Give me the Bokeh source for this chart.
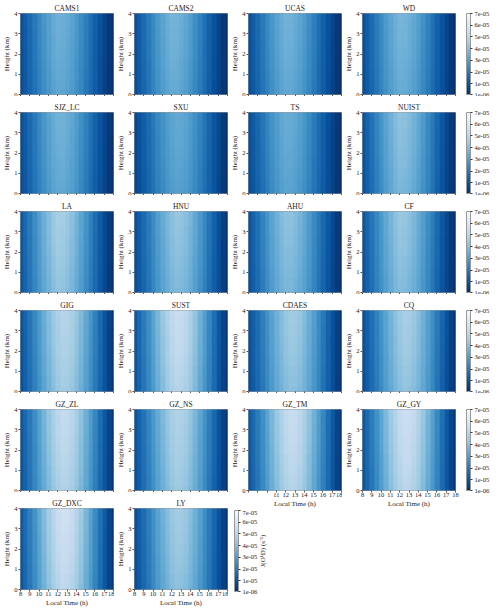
import numpy as np
from bokeh.plotting import figure
from bokeh.layouts import column, row
from bokeh.models import (LinearColorMapper, ColorBar, FixedTicker, CustomJSTickFormatter,
                          Label, Range1d)
from bokeh.palettes import Blues256
from bokeh.embed import file_html
from bokeh.resources import INLINE

# ---------------- data (J(O1D), units of 1e-5 s^-1) ----------------
hours = [8.0, 8.5, 9.0, 9.5, 10.0, 10.5, 11.0, 11.5, 12.0, 12.5, 13.0,
         13.5, 14.0, 14.5, 15.0, 15.5, 16.0, 16.5, 17.0, 17.5, 18.0]
heights_km = [0.0, 0.5, 1.0, 1.5, 2.0, 2.5, 3.0, 3.5, 4.0]
# relative enhancement of J(O1D) with height (surface = 1)
height_factor = [1.00, 1.015, 1.03, 1.045, 1.06, 1.07, 1.08, 1.09, 1.10]

j_CAMS1 = [0.86, 1.16, 1.49, 1.85, 2.21, 2.57, 2.87, 3.14, 3.30, 3.27, 3.14, 2.94, 2.67, 2.34, 1.98, 1.62, 1.25, 0.89, 0.56, 0.30, 0.10]
j_CAMS2 = [0.88, 1.19, 1.53, 1.90, 2.28, 2.65, 2.96, 3.23, 3.40, 3.37, 3.23, 3.03, 2.75, 2.41, 2.04, 1.67, 1.29, 0.92, 0.58, 0.31, 0.10]
j_UCAS = [0.87, 1.17, 1.51, 1.88, 2.24, 2.61, 2.91, 3.18, 3.35, 3.32, 3.18, 2.98, 2.71, 2.38, 2.01, 1.64, 1.27, 0.90, 0.57, 0.30, 0.10]
j_WD = [0.90, 1.21, 1.55, 1.93, 2.31, 2.69, 3.00, 3.28, 3.45, 3.42, 3.28, 3.07, 2.79, 2.45, 2.07, 1.69, 1.31, 0.93, 0.59, 0.31, 0.10]
j_SJZ_LC = [0.85, 1.15, 1.49, 1.86, 2.23, 2.60, 2.91, 3.18, 3.34, 3.35, 3.22, 3.02, 2.76, 2.43, 2.06, 1.69, 1.31, 0.94, 0.60, 0.32, 0.11]
j_SXU = [0.68, 0.93, 1.21, 1.52, 1.86, 2.20, 2.51, 2.76, 2.98, 3.10, 3.07, 2.95, 2.73, 2.45, 2.11, 1.77, 1.40, 1.02, 0.68, 0.37, 0.16]
j_TS = [0.83, 1.12, 1.44, 1.79, 2.14, 2.50, 2.78, 3.04, 3.20, 3.17, 3.04, 2.85, 2.59, 2.27, 1.92, 1.57, 1.22, 0.86, 0.54, 0.29, 0.10]
j_NUIST = [0.99, 1.33, 1.71, 2.13, 2.55, 2.96, 3.31, 3.61, 3.80, 3.76, 3.61, 3.38, 3.08, 2.70, 2.28, 1.86, 1.44, 1.03, 0.65, 0.34, 0.11]
j_LA = [1.09, 1.47, 1.89, 2.35, 2.81, 3.28, 3.65, 3.99, 4.20, 4.16, 3.99, 3.74, 3.40, 2.98, 2.52, 2.06, 1.60, 1.13, 0.71, 0.38, 0.13]
j_HNU = [0.86, 1.17, 1.52, 1.91, 2.34, 2.77, 3.16, 3.47, 3.74, 3.90, 3.86, 3.71, 3.43, 3.08, 2.65, 2.22, 1.76, 1.29, 0.86, 0.47, 0.20]
j_AHU = [0.97, 1.31, 1.69, 2.11, 2.53, 2.94, 3.29, 3.59, 3.78, 3.78, 3.63, 3.40, 3.10, 2.73, 2.31, 1.89, 1.47, 1.06, 0.67, 0.36, 0.12]
j_CF = [1.03, 1.38, 1.78, 2.21, 2.65, 3.08, 3.44, 3.75, 3.95, 3.91, 3.75, 3.52, 3.20, 2.80, 2.37, 1.94, 1.50, 1.07, 0.67, 0.36, 0.12]
j_GIG = [0.99, 1.35, 1.76, 2.21, 2.70, 3.20, 3.65, 4.01, 4.32, 4.50, 4.46, 4.28, 3.96, 3.56, 3.06, 2.57, 2.03, 1.49, 0.99, 0.54, 0.23]
j_SUST = [1.08, 1.47, 1.91, 2.40, 2.94, 3.48, 3.97, 4.36, 4.70, 4.90, 4.85, 4.66, 4.31, 3.87, 3.33, 2.79, 2.21, 1.62, 1.08, 0.59, 0.25]
j_CDAES = [0.90, 1.23, 1.60, 2.01, 2.46, 2.91, 3.32, 3.65, 3.94, 4.10, 4.06, 3.90, 3.61, 3.24, 2.79, 2.34, 1.85, 1.35, 0.90, 0.49, 0.21]
j_CQ = [0.92, 1.26, 1.64, 2.06, 2.52, 2.98, 3.40, 3.74, 4.03, 4.20, 4.16, 3.99, 3.70, 3.32, 2.86, 2.39, 1.89, 1.39, 0.92, 0.50, 0.21]
j_GZ_ZL = [1.06, 1.44, 1.87, 2.35, 2.88, 3.41, 3.89, 4.27, 4.61, 4.80, 4.75, 4.56, 4.22, 3.79, 3.26, 2.74, 2.16, 1.58, 1.06, 0.58, 0.24]
j_GZ_NS = [0.97, 1.32, 1.72, 2.16, 2.64, 3.12, 3.56, 3.92, 4.22, 4.40, 4.36, 4.18, 3.87, 3.48, 2.99, 2.51, 1.98, 1.45, 0.97, 0.53, 0.22]
j_GZ_TM = [1.10, 1.49, 1.93, 2.42, 2.96, 3.50, 3.98, 4.37, 4.71, 4.90, 4.84, 4.64, 4.29, 3.85, 3.31, 2.77, 2.19, 1.61, 1.07, 0.58, 0.24]
j_GZ_GY = [1.10, 1.50, 1.95, 2.45, 3.00, 3.55, 4.05, 4.45, 4.80, 5.00, 4.95, 4.75, 4.40, 3.95, 3.40, 2.85, 2.25, 1.65, 1.10, 0.60, 0.25]
j_GZ_DXC = [1.12, 1.53, 1.99, 2.50, 3.06, 3.62, 4.13, 4.54, 4.90, 5.10, 5.05, 4.85, 4.49, 4.03, 3.47, 2.91, 2.30, 1.68, 1.12, 0.61, 0.26]
j_LY = [0.88, 1.21, 1.58, 1.99, 2.44, 2.90, 3.31, 3.65, 3.95, 4.12, 4.10, 3.95, 3.67, 3.31, 2.86, 2.40, 1.91, 1.41, 0.94, 0.52, 0.22]

x_ticks = [8, 9, 10, 11, 12, 13, 14, 15, 16, 17, 18]
y_ticks = [0, 1, 2, 3, 4]
cbar_ticks = [1e-6, 1e-5, 2e-5, 3e-5, 4e-5, 5e-5, 6e-5, 7e-5]
cbar_low, cbar_high = 1e-6, 7e-5
cbar_title = "J(O\u00b9D) (s\u207b\u00b9)"

# ---------------- styling / layout ----------------
FONT = "Liberation Serif"
TXT = "#222222"
FW, FH = 93, 81
LEFT, RIGHT = 19, 1
TOP_FIRST, TOP, BOT, BOT_LAB = 13, 16, 2, 18
CB_GAP, CB_W = 11, 4
CB_EXTRA = 46   # room for bar, tick labels and title

mapper = LinearColorMapper(palette=Blues256, low=cbar_low, high=cbar_high)


def style_axis(ax):
    ax.major_label_text_font = FONT
    ax.major_label_text_font_size = "6.5px"
    ax.major_label_text_color = TXT
    ax.axis_label_text_font = FONT
    ax.axis_label_text_font_size = "7px"
    ax.axis_label_text_font_style = "normal"
    ax.axis_label_text_color = TXT
    ax.axis_line_color = None
    ax.major_tick_line_color = "#555555"
    ax.minor_tick_line_color = None
    ax.major_tick_in = 0
    ax.major_tick_out = 2
    ax.major_label_standoff = 1
    ax.axis_label_standoff = 0


def panel(name, values, top, bottom, xlabels, hide_x=()):
    p = figure(frame_width=FW, frame_height=FH, x_range=Range1d(8, 18), y_range=Range1d(0, 4),
               output_backend="svg", toolbar_location=None,
               min_border_left=LEFT, min_border_right=RIGHT,
               min_border_top=top, min_border_bottom=bottom, title=name)
    st = hours[1] - hours[0]
    sh = heights_km[1] - heights_km[0]
    img = np.outer(height_factor, values) * 1e-5
    p.image(image=[img], x=hours[0] - st / 2, y=heights_km[0] - sh / 2,
            dw=hours[-1] - hours[0] + st, dh=heights_km[-1] - heights_km[0] + sh,
            color_mapper=mapper)
    p.grid.visible = False
    p.outline_line_color = "#9a9a9a"
    p.title.text_font = FONT
    p.title.text_font_size = "7.5px"
    p.title.text_font_style = "normal"
    p.title.text_color = TXT
    p.title.align = "center"
    p.title.standoff = 1
    p.xaxis.ticker = FixedTicker(ticks=x_ticks)
    p.yaxis.ticker = FixedTicker(ticks=y_ticks)
    style_axis(p.xaxis[0])
    style_axis(p.yaxis[0])
    p.yaxis.axis_label = "Height (km)"
    if xlabels:
        p.xaxis.axis_label = "Local Time (h)"
        p.xaxis.major_label_standoff = 0
        if hide_x:
            p.xaxis.major_label_overrides = {t: "" for t in hide_x}
    else:
        p.xaxis.major_label_text_font_size = "0px"
        p.xaxis.major_label_text_color = None
        p.xaxis.major_label_standoff = 0
    return p


def add_cbar(p, x_off):
    cb = ColorBar(color_mapper=mapper, ticker=FixedTicker(ticks=cbar_ticks),
                  formatter=CustomJSTickFormatter(
                      code="const s = tick.toExponential(0); return s.replace(/e-(\\d)$/, 'e-0$1');"),
                  width=CB_W, height=FH, padding=0, margin=0, location=(x_off, 0),
                  major_tick_in=0, major_tick_out=2, major_tick_line_color="#333333",
                  minor_tick_line_color=None, label_standoff=2,
                  major_label_text_font=FONT, major_label_text_font_size="6.5px",
                  major_label_text_color=TXT, bar_line_color="#999999",
                  background_fill_color=None, border_line_color=None)
    p.add_layout(cb, "center")
    lab = Label(x=x_off + CB_W + 24, y=FH / 2, x_units="screen", y_units="screen",
                text=cbar_title, angle=90, angle_units="deg",
                text_align="center", text_baseline="middle",
                text_font=FONT, text_font_size="7px", text_color=TXT)
    p.add_layout(lab, "center")


def top_of(r):
    return TOP_FIRST if r == 0 else TOP


grid = [
    [("CAMS1", j_CAMS1), ("CAMS2", j_CAMS2), ("UCAS", j_UCAS), ("WD", j_WD)],
    [("SJZ_LC", j_SJZ_LC), ("SXU", j_SXU), ("TS", j_TS), ("NUIST", j_NUIST)],
    [("LA", j_LA), ("HNU", j_HNU), ("AHU", j_AHU), ("CF", j_CF)],
    [("GIG", j_GIG), ("SUST", j_SUST), ("CDAES", j_CDAES), ("CQ", j_CQ)],
    [("GZ_ZL", j_GZ_ZL), ("GZ_NS", j_GZ_NS), ("GZ_TM", j_GZ_TM), ("GZ_GY", j_GZ_GY)],
    [("GZ_DXC", j_GZ_DXC), ("LY", j_LY)],
]

columns = []
for c in range(4):
    figs = []
    for r in range(len(grid)):
        if c >= len(grid[r]):
            continue
        name, vals = grid[r][c]
        last = (r == len(grid) - 1) or (c >= len(grid[r + 1]))
        hide = (8, 9, 10) if (c == 2 and last) else ()
        p = panel(name, vals, top_of(r), BOT_LAB if last else BOT, last, hide)
        if c == 3:
            p.min_border_right = CB_EXTRA
            add_cbar(p, FW + CB_GAP)
        figs.append(p)
    if c == 2:
        # empty cell of the last row: holds the colour bar of the LY panel
        cbf = figure(frame_width=FW, frame_height=FH, x_range=Range1d(0, 1), y_range=Range1d(0, 1),
                     output_backend="svg", toolbar_location=None,
                     x_axis_type=None, y_axis_type=None,
                     min_border_left=LEFT, min_border_right=RIGHT,
                     min_border_top=0, min_border_bottom=6)
        cbf.outline_line_color = None
        cbf.grid.visible = False
        add_cbar(cbf, -(LEFT - 5))
        figs.append(cbf)
    columns.append(column(*figs, spacing=0))

layout = row(*columns, spacing=0)

open("out.html", "w").write(file_html(layout, INLINE))
